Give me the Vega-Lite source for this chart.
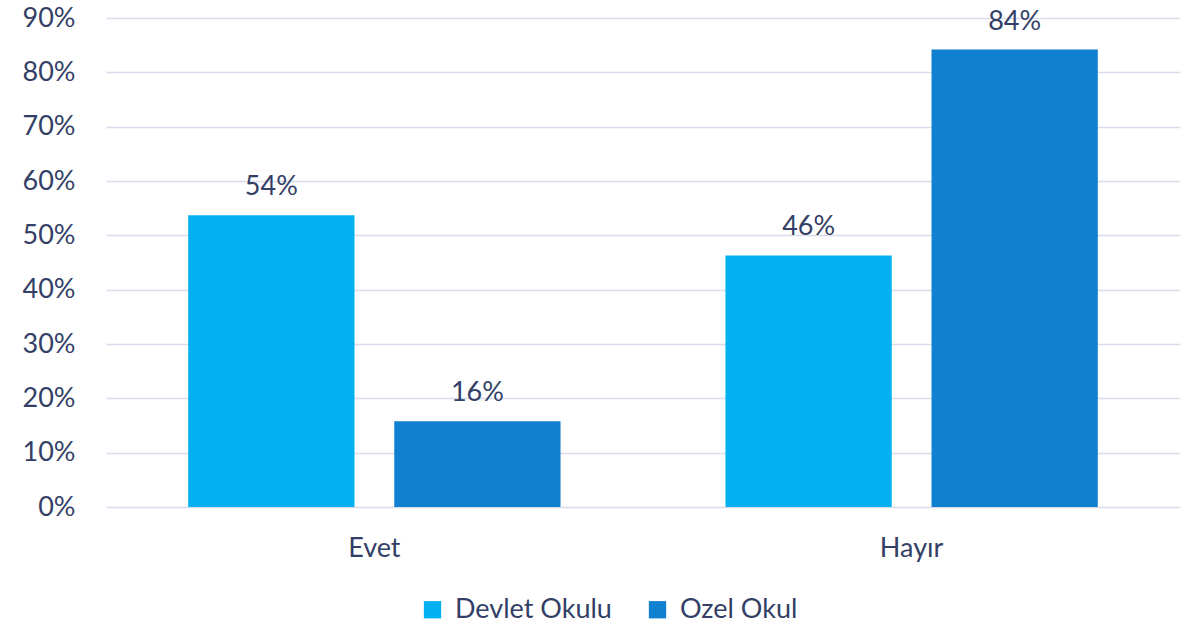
{
  "$schema": "https://vega.github.io/schema/vega-lite/v6.json",
  "autosize": {"type": "none"},
  "width": 1074,
  "height": 489,
  "padding": {"left": 106, "top": 18, "right": 22, "bottom": 118},
  "background": "white",
  "config": {
    "view": {"stroke": null},
    "font": "Lato",
    "axis": {"labelFont": "Lato", "labelColor": "#333F66", "labelFontSize": 27},
    "legend": {"labelFont": "Lato", "labelColor": "#333F66", "labelFontSize": 27}
  },
  "data": {
    "values": [
      {"cevap": "Evet", "okul": "Devlet Okulu", "oran": 0.537},
      {"cevap": "Evet", "okul": "Ozel Okul", "oran": 0.158},
      {"cevap": "Hayır", "okul": "Devlet Okulu", "oran": 0.463},
      {"cevap": "Hayır", "okul": "Ozel Okul", "oran": 0.842}
    ]
  },
  "encoding": {
    "x": {
      "field": "cevap", "type": "nominal", "sort": ["Evet", "Hayır"],
      "scale": {"paddingInner": 0.307, "paddingOuter": 0.153},
      "axis": {"title": null, "labelAngle": 0, "ticks": false, "domain": false, "labelPadding": 28, "grid": false}
    },
    "xOffset": {
      "field": "okul", "type": "nominal", "sort": ["Devlet Okulu", "Ozel Okul"],
      "scale": {"paddingInner": 0.193, "paddingOuter": 0}
    },
    "y": {
      "field": "oran", "type": "quantitative",
      "scale": {"domain": [0, 0.9], "nice": false},
      "axis": {
        "title": null, "format": ".0%", "values": [0, 0.1, 0.2, 0.3, 0.4, 0.5, 0.6, 0.7, 0.8, 0.9],
        "ticks": false, "domain": false, "labelPadding": 31,
        "gridColor": "#D9DCEB", "gridWidth": 1.5
      }
    }
  },
  "layer": [
    {
      "mark": {"type": "bar"},
      "encoding": {
        "color": {
          "field": "okul", "type": "nominal",
          "scale": {"domain": ["Devlet Okulu", "Ozel Okul"], "range": ["#03B1F1", "#1180D1"]},
          "legend": {
            "title": null, "orient": "none", "legendX": 313, "legendY": 578, "direction": "horizontal",
            "symbolType": "square", "symbolSize": 300, "symbolStrokeWidth": 0,
            "columnPadding": 32, "labelOffset": 9
          }
        }
      }
    },
    {
      "mark": {"type": "text", "dy": -28, "fontSize": 27, "color": "#333F66", "font": "Lato"},
      "encoding": {"text": {"field": "oran", "type": "quantitative", "format": ".0%"}}
    }
  ]
}
